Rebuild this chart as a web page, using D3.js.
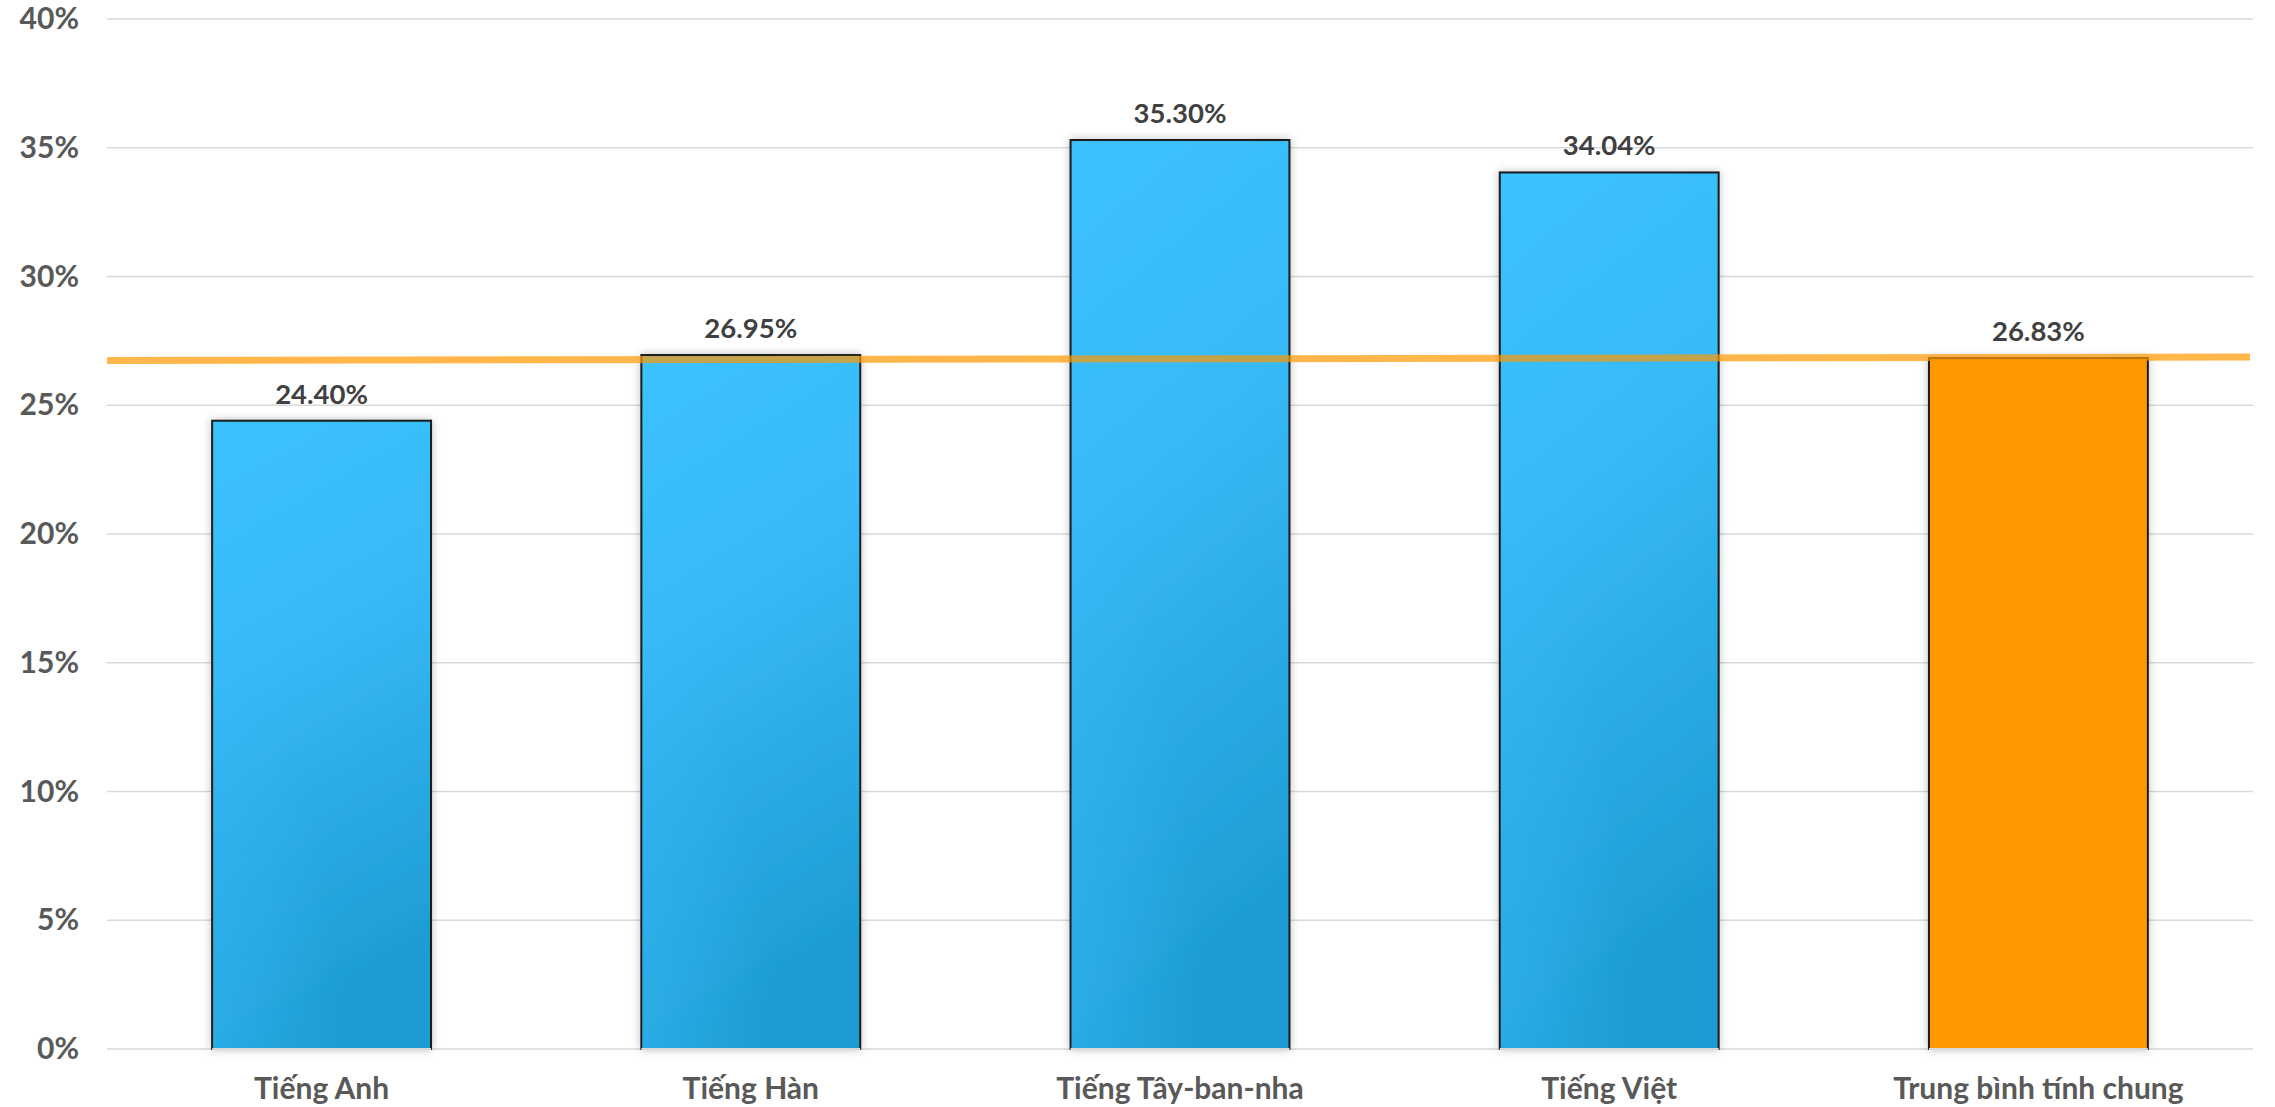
<!DOCTYPE html>
<html><head><meta charset="utf-8">
<script src="https://cdn.jsdelivr.net/npm/d3@7"></script>
<style>html,body{margin:0;padding:0;background:#fff;}svg{display:block;}</style>
</head><body>
<svg id="chart" width="2275" height="1107"></svg>
<script>
const categories = ["Tiếng Anh", "Tiếng Hàn", "Tiếng Tây-ban-nha", "Tiếng Việt", "Trung bình tính chung"];
const values = [24.40, 26.95, 35.30, 34.04, 26.83];
const highlight = [false, false, false, false, true];
const yTicks = [0, 5, 10, 15, 20, 25, 30, 35, 40];
const avgLine = [26.74, 26.87]; // orange line, value at left and right edges of plot

const W = 2275, H = 1107;
const m = {left: 107, right: 22, top: 19, bottom: 58};
const svg = d3.select("#chart");
const defs = svg.append("defs");
const grad = defs.append("linearGradient").attr("id","blueGrad")
  .attr("x1","0").attr("y1","0").attr("x2","0.2").attr("y2","1");
grad.append("stop").attr("offset","0").attr("stop-color","#3cc1ff");
grad.append("stop").attr("offset","0.4").attr("stop-color","#37baf8");
grad.append("stop").attr("offset","1").attr("stop-color","#1d9cd2");
const rg = defs.append("radialGradient").attr("id","cornerGlow")
  .attr("cx","0").attr("cy","1").attr("r","0.6");
rg.append("stop").attr("offset","0").attr("stop-color","#3cc1ff").attr("stop-opacity",0.9);
rg.append("stop").attr("offset","1").attr("stop-color","#3cc1ff").attr("stop-opacity",0);
const f = defs.append("filter").attr("id","shadow").attr("x","-20%").attr("y","-20%").attr("width","140%").attr("height","140%");
f.append("feDropShadow").attr("dx",0).attr("dy",0).attr("stdDeviation",4).attr("flood-color","#000").attr("flood-opacity",0.25);

const x = d3.scaleBand().domain(categories).range([m.left, W - m.right]).paddingInner(0.49).paddingOuter(0.245);
const y = d3.scaleLinear().domain([0, 40]).range([H - m.bottom, m.top]);

// gridlines
svg.append("g").selectAll("line").data(yTicks).join("line")
  .attr("x1", m.left).attr("x2", W - m.right)
  .attr("y1", d => y(d)).attr("y2", d => y(d))
  .attr("stroke", "#d9d9d9").attr("stroke-width", 1.5);

// y axis labels
const yAxis = d3.axisLeft(y).tickValues(yTicks).tickFormat(d => d + "%").tickSize(0).tickPadding(28);
const ya = svg.append("g").attr("transform", `translate(${m.left},0)`).call(yAxis);
ya.select(".domain").remove();
ya.selectAll("text").attr("font-family","Lato, 'DejaVu Sans', sans-serif").attr("font-weight","bold")
  .attr("font-size", 30).attr("fill", "#595959");

// bars
const bars = svg.append("g");
bars.selectAll("rect.bar").data(values).join("rect").attr("class","bar")
  .attr("x", (d,i) => x(categories[i])).attr("width", x.bandwidth())
  .attr("y", d => y(d)).attr("height", d => y(0) - y(d))
  .attr("fill", (d,i) => highlight[i] ? "#ff9900" : "url(#blueGrad)")
  .attr("stroke", "#1a1a1a").attr("stroke-width", 2)
  .attr("filter", "url(#shadow)");
bars.selectAll("rect.glow").data(values).join("rect").attr("class","glow")
  .filter((d,i) => !highlight[i])
  .attr("x", (d,i) => x(categories[i]) + 1).attr("width", x.bandwidth() - 2)
  .attr("y", d => y(d) + 1).attr("height", d => y(0) - y(d) - 2)
  .attr("fill", "url(#cornerGlow)").attr("opacity", 0.45);
// base line under bars
svg.append("g").selectAll("line").data(values).join("line")
  .attr("x1", (d,i) => x(categories[i])).attr("x2", (d,i) => x(categories[i]) + x.bandwidth())
  .attr("y1", y(0)).attr("y2", y(0)).attr("stroke", "#d9d9d9").attr("stroke-width", 2);

// average line
svg.append("line")
  .attr("x1", m.left).attr("x2", W - m.right - 3)
  .attr("y1", y(avgLine[0])).attr("y2", y(avgLine[1]))
  .attr("stroke", "#ff9900").attr("stroke-opacity", 0.7).attr("stroke-width", 7);

// value labels
svg.append("g").selectAll("text").data(values).join("text")
  .attr("x", (d,i) => x(categories[i]) + x.bandwidth()/2)
  .attr("y", d => y(d) - 17)
  .attr("text-anchor","middle")
  .attr("font-family","Lato, 'DejaVu Sans', sans-serif").attr("font-weight","bold")
  .attr("font-size", 27.5).attr("fill", "#404040")
  .text(d => d.toFixed(2) + "%");

// x labels
const xAxis = d3.axisBottom(x).tickSize(0).tickPadding(29);
const xa = svg.append("g").attr("transform", `translate(0,${y(0)})`).call(xAxis);
xa.select(".domain").remove();
xa.selectAll("text").attr("font-family","Lato, 'DejaVu Sans', sans-serif").attr("font-weight","bold")
  .attr("font-size", 30).attr("fill", "#595959");
</script>
</body></html>
